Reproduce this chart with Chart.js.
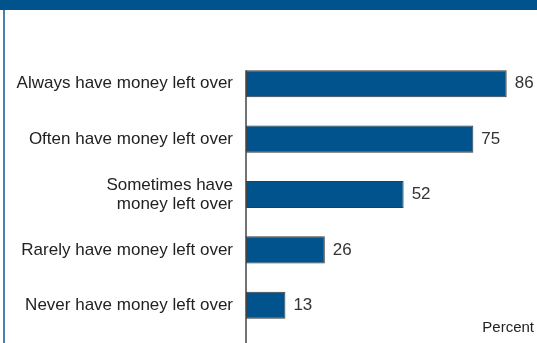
<!DOCTYPE html>
<html>
<head>
<meta charset="utf-8">
<script src="https://cdn.jsdelivr.net/npm/chart.js@4/dist/chart.umd.min.js"></script>
<style>
    html, body { margin: 0; padding: 0; background: #fff; }
    #wrap { position: relative; width: 537px; height: 343px; overflow: hidden; }
    #band { position: absolute; left: 0; top: 0; width: 537px; height: 10px; background: #00538c; }
    #rule { position: absolute; left: 3px; top: 10px; width: 2px; height: 333px; background: #4a7fae; }
    #chart { position: absolute; left: 0; top: 0; }
</style>
</head>
<body>
<div id="wrap">
    <canvas id="chart" width="537" height="343"></canvas>
    <div id="band"></div>
    <div id="rule"></div>
</div>
<script>
(function () {
    'use strict';

    var categories = [
        'Always have money left over',
        'Often have money left over',
        ['Sometimes have', 'money left over'],
        'Rarely have money left over',
        'Never have money left over'
    ];
    var percent = [86, 75, 52, 26, 13];
    var axisTitle = 'Percent';

    var barBlue = '#00538c';
    var textColor = '#222222';
    var labelFont = { family: "'Liberation Sans', Arial, sans-serif", size: 17, lineHeight: 1.12 };
    var valueFont = { family: "'Liberation Sans', Arial, sans-serif", size: 17 };

    // value at the end of each bar, the zero line and the axis note
    var barLabels = {
        id: 'barLabels',
        afterDatasetsDraw: function (chart) {
            var ctx = chart.ctx;
            var meta = chart.getDatasetMeta(0);
            var xs = chart.scales.x;
            ctx.save();
            ctx.fillStyle = '#333333';
            ctx.font = valueFont.size + 'px ' + valueFont.family;
            ctx.textAlign = 'left';
            ctx.textBaseline = 'middle';
            meta.data.forEach(function (bar, i) {
                ctx.fillText(String(percent[i]), bar.x + 8, bar.y);
            });

            var first = meta.data[0];
            var x0 = xs.getPixelForValue(0);
            ctx.strokeStyle = '#444444';
            ctx.lineWidth = 1.5;
            ctx.beginPath();
            ctx.moveTo(x0, first.y - first.height / 2);
            ctx.lineTo(x0, chart.height);
            ctx.stroke();

            ctx.fillStyle = textColor;
            ctx.font = '15px ' + valueFont.family;
            ctx.textAlign = 'right';
            ctx.textBaseline = 'middle';
            ctx.fillText(axisTitle, chart.width - 3, 328);
            ctx.restore();
        }
    };

    new Chart(document.getElementById('chart'), {
        type: 'bar',
        data: {
            labels: categories,
            datasets: [{
                data: percent,
                backgroundColor: barBlue,
                borderColor: '#3a3a3a',
                borderWidth: 1,
                borderSkipped: false,
                barPercentage: 0.49,
                categoryPercentage: 1
            }]
        },
        options: {
            indexAxis: 'y',
            responsive: false,
            animation: false,
            layout: { padding: { top: 56, bottom: 10, left: 0, right: 0 } },
            plugins: {
                legend: { display: false },
                tooltip: { enabled: false }
            },
            scales: {
                x: {
                    display: false,
                    min: 0,
                    max: 96
                },
                y: {
                    grid: { display: false, drawTicks: false },
                    border: { display: false },
                    afterFit: function (scale) {
                        scale.width = 246;
                        scale.paddingTop = 0;
                        scale.paddingBottom = 0;
                    },
                    ticks: {
                        color: textColor,
                        font: labelFont,
                        padding: 13,
                        autoSkip: false
                    }
                }
            }
        },
        plugins: [barLabels]
    });
})();
</script>
</body>
</html>
